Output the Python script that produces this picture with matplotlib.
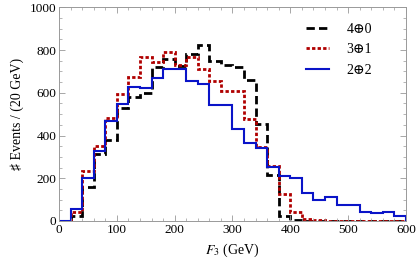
import numpy as np
import matplotlib
matplotlib.use("Agg")
import matplotlib.pyplot as plt
from matplotlib.ticker import MultipleLocator

plt.rcParams['font.family'] = ['Liberation Serif', 'DejaVu Serif']
plt.rcParams['mathtext.fontset'] = 'stix'

bin_edges = np.arange(0, 620, 20)

# 4⊕0
s40 = [0, 25, 160, 312, 378, 530, 579, 597, 721, 758, 727, 783, 825, 749, 730,
       722, 660, 452, 215, 23, 5, 0, 0, 0, 0, 0, 0, 0, 0, 0]
# 3⊕1
s31 = [0, 40, 234, 353, 484, 593, 675, 767, 744, 791, 728, 769, 713, 655, 608,
       610, 479, 348, 259, 126, 44, 9, 5, 2, 2, 1, 1, 1, 1, 1]
# 2⊕2
s22 = [0, 55, 200, 328, 470, 546, 629, 624, 669, 713, 710, 654, 640, 541, 541,
       429, 364, 343, 254, 212, 200, 130, 98, 111, 75, 75, 44, 36, 41, 23]

labels = ['4⊕0', '3⊕1', '2⊕2']

fig = plt.figure(figsize=(4.17, 2.67), dpi=100)
ax = fig.add_axes([0.1415, 0.1723, 0.8321, 0.8004])

ax.stairs(s40, bin_edges, color='black', lw=2.0, ls=(0, (3, 1.5)), label=labels[0])
ax.stairs(s31, bin_edges, color='#b00000', lw=2.0, ls=(0, (1.2, 0.8)), label=labels[1])
ax.stairs(s22, bin_edges, color='#0a14c8', lw=1.5, label=labels[2])

ax.set_xlim(0, 600)
ax.set_ylim(0, 1000)
ax.xaxis.set_major_locator(MultipleLocator(100))
ax.xaxis.set_minor_locator(MultipleLocator(20))
ax.yaxis.set_major_locator(MultipleLocator(200))
ax.yaxis.set_minor_locator(MultipleLocator(50))
ax.tick_params(which='both', direction='in', top=True, right=True, color='#999999',
               labelsize=9.5, pad=2)
ax.tick_params(which='major', length=4, width=0.6)
ax.tick_params(which='minor', length=2.2, width=0.5)
for sp in ax.spines.values():
    sp.set_color('#999999')
    sp.set_linewidth(0.7)

ax.set_xlabel('$F_3$ (GeV)', fontsize=10)
ax.set_ylabel('♯ Events / (20 GeV)', fontsize=10, labelpad=4)

leg = ax.legend(loc='upper right', frameon=False, fontsize=10, handlelength=1.65,
                handletextpad=1.3, labelspacing=0.55, borderaxespad=0.4,
                bbox_to_anchor=(0.935, 0.98))

fig.savefig('out.png', dpi=100)
